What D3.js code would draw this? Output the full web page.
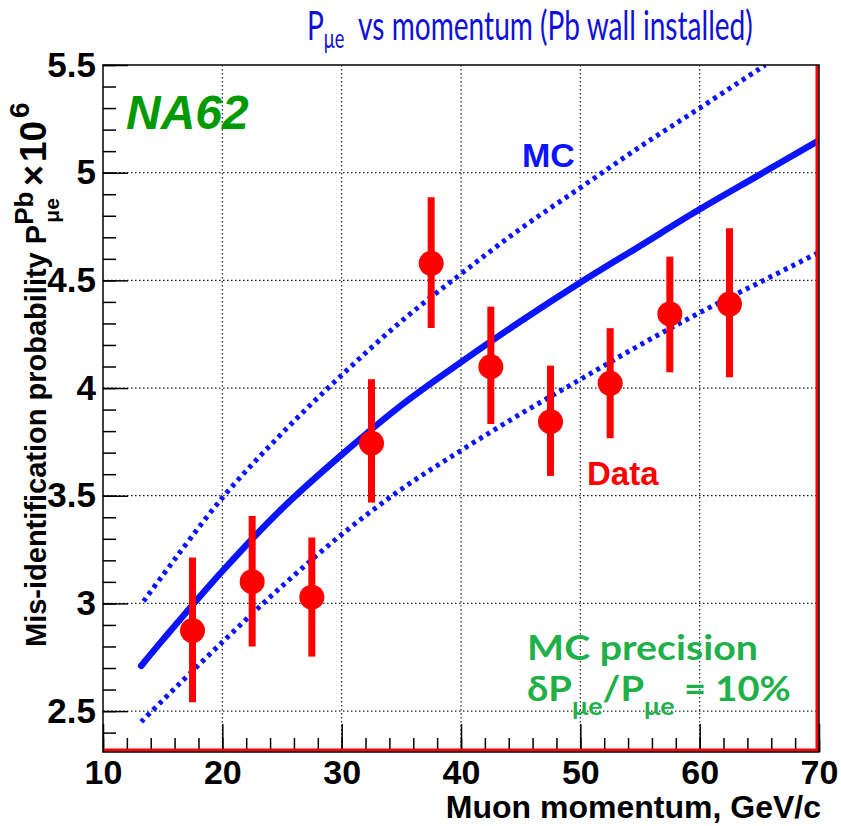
<!DOCTYPE html>
<html lang="en">
<head>
<meta charset="UTF-8">
<title>Pmue vs momentum</title>
<script src="https://cdn.jsdelivr.net/npm/d3@7"></script>
<style>
  body { margin: 0; background: #fff; }
  svg { display: block; }
  .tick text { font-family: "Liberation Sans", Arial, sans-serif; font-weight: bold; }
</style>
</head>
<body>
<div id="chart"></div>
<script>
// data points (muon momentum bins) with error bars
const dataX  = [17.5, 22.5, 27.5, 32.5, 37.5, 42.5, 47.5, 52.5, 57.5, 62.5];
const dataY  = [2.874, 3.101, 3.029, 3.744, 4.579, 4.099, 3.844, 4.022, 4.344, 4.390];
const dataHi = [3.213, 3.406, 3.306, 4.041, 4.886, 4.378, 4.104, 4.278, 4.610, 4.742];
const dataLo = [2.541, 2.800, 2.753, 3.468, 4.279, 3.833, 3.592, 3.767, 4.073, 4.050];

// MC curve and its +-10% band
const mcX    = [13.2, 15, 20, 25, 30, 35, 40, 45, 50, 55, 60, 65, 70];
const mcY    = [2.71, 2.83, 3.15, 3.44, 3.69, 3.92, 4.12, 4.31, 4.49, 4.66, 4.83, 4.99, 5.15];
const upperX = [13.4, 15, 20, 25, 30, 35, 40, 45, 50, 55, 60, 65.5];
const upperY = [3.01, 3.13, 3.49, 3.79, 4.06, 4.31, 4.53, 4.74, 4.93, 5.12, 5.30, 5.50];
const lowerX = [13.2, 15, 20, 25, 30, 35, 40, 45, 50, 55, 60, 65, 70];
const lowerY = [2.45, 2.55, 2.82, 3.08, 3.32, 3.53, 3.71, 3.88, 4.04, 4.20, 4.35, 4.49, 4.63];

const xMajor = [10, 20, 30, 40, 50, 60, 70];
const yMajor = [2.5, 3, 3.5, 4, 4.5, 5, 5.5];

const W = 841, H = 826;
const pLeft = 103, pRight = 819, pTop = 65, pBottom = 752;

const svg = d3.select('#chart').append('svg')
    .attr('width', W).attr('height', H);

const x = d3.scaleLinear().domain([10, 70]).range([pLeft, pRight]);
const y = d3.scaleLinear().domain([2.31, 5.5]).range([pBottom, pTop]);

svg.append('rect').attr('width', W).attr('height', H).attr('fill', '#fff');

// grid
const grid = svg.append('g').attr('stroke', '#222').attr('stroke-width', 1.2)
    .attr('stroke-dasharray', '1.5,2.5');
grid.selectAll('.gx').data(xMajor.slice(1, -1)).enter().append('line')
    .attr('x1', d => x(d)).attr('x2', d => x(d)).attr('y1', pTop).attr('y2', pBottom);
grid.selectAll('.gy').data(yMajor.slice(0, -1)).enter().append('line')
    .attr('y1', d => y(d)).attr('y2', d => y(d)).attr('x1', pLeft).attr('x2', pRight);

// axes, ticks pointing inward
const minorX = d3.range(10, 70.01, 2);
const minorY = d3.range(24, 55.01, 1).map(d => d / 10);

function styleAxis(g) {
    g.select('.domain').remove();
    g.selectAll('.tick line').attr('stroke', '#000').attr('stroke-width', 1.5);
}

svg.append('g').attr('transform', `translate(0,${pBottom})`)
    .call(d3.axisBottom(x).tickValues(minorX).tickSize(-14).tickFormat(''))
    .call(styleAxis);
svg.append('g').attr('transform', `translate(0,${pBottom})`)
    .call(d3.axisBottom(x).tickValues(xMajor).tickSize(-28).tickPadding(8).tickFormat(d => d))
    .call(styleAxis)
    .call(g => g.selectAll('text').attr('font-size', 34).attr('fill', '#000'));

svg.append('g').attr('transform', `translate(${pLeft},0)`)
    .call(d3.axisLeft(y).tickValues(minorY).tickSize(-13).tickFormat(''))
    .call(styleAxis);
svg.append('g').attr('transform', `translate(${pLeft},0)`)
    .call(d3.axisLeft(y).tickValues(yMajor).tickSize(-25).tickPadding(7).tickFormat(d => d))
    .call(styleAxis)
    .call(g => g.selectAll('text').attr('font-size', 35).attr('fill', '#000'));

// curves
svg.append('clipPath').attr('id', 'clip').append('rect')
    .attr('x', pLeft).attr('y', pTop).attr('width', pRight - pLeft).attr('height', pBottom - pTop);

const line = d3.line().curve(d3.curveCatmullRom).x(d => x(d[0])).y(d => y(d[1]));
const curves = svg.append('g').attr('clip-path', 'url(#clip)').attr('fill', 'none');
curves.append('path').datum(d3.zip(upperX, upperY)).attr('d', line)
    .attr('stroke', '#0a14ff').attr('stroke-width', 5).attr('stroke-dasharray', '4,4.5');
curves.append('path').datum(d3.zip(lowerX, lowerY)).attr('d', line)
    .attr('stroke', '#0a14ff').attr('stroke-width', 5).attr('stroke-dasharray', '4,4.5');
curves.append('path').datum(d3.zip(mcX, mcY)).attr('d', line)
    .attr('stroke', '#0a14ff').attr('stroke-width', 6.5).attr('stroke-linecap', 'round');

// data points
const pts = svg.append('g').attr('fill', '#ff0000');
pts.selectAll('rect.err').data(dataX).enter().append('rect')
    .attr('x', d => x(d) - 3.5).attr('width', 7)
    .attr('y', (d, i) => y(dataHi[i]))
    .attr('height', (d, i) => y(dataLo[i]) - y(dataHi[i]));
pts.selectAll('circle').data(dataX).enter().append('circle')
    .attr('cx', d => x(d)).attr('cy', (d, i) => y(dataY[i])).attr('r', 12.5);

// frame (red inner line on bottom and right)
svg.append('line').attr('x1', pLeft).attr('x2', pRight).attr('y1', pBottom - 2).attr('y2', pBottom - 2)
    .attr('stroke', '#ff0000').attr('stroke-width', 3);
svg.append('line').attr('x1', pRight - 2).attr('x2', pRight - 2).attr('y1', pTop).attr('y2', pBottom)
    .attr('stroke', '#ff0000').attr('stroke-width', 3);
svg.append('rect').attr('x', pLeft).attr('y', pTop).attr('width', pRight - pLeft).attr('height', pBottom - pTop)
    .attr('fill', 'none').attr('stroke', '#000').attr('stroke-width', 1.5);

// labels
const arial = '"Liberation Sans", Arial, sans-serif';
const comic = '"Comic Sans MS", Lato, "Open Sans", sans-serif';

// squeeze a text horizontally so it spans `width` px starting at (x0, y0)
function fitTo(t, x0, y0, width) {
    const w = t.node().getBBox().width;
    t.attr('transform', `translate(${x0},${y0}) scale(${width / w},1)`);
}

svg.append('text').attr('x', 821).attr('y', 818).attr('text-anchor', 'end')
    .attr('font-family', arial).attr('font-weight', 'bold').attr('font-size', 32)
    .text('Muon momentum, GeV/c');

const yt = svg.append('text').attr('transform', 'translate(46,647) rotate(-90)')
    .attr('font-family', arial).attr('font-weight', 'bold').attr('font-size', 29);
yt.append('tspan').text('Mis-identification probability P');
yt.append('tspan').attr('dy', -13).attr('font-size', 26).text('Pb');
yt.append('tspan').attr('dx', -31).attr('dy', 26).attr('font-size', 21).text('\u03bce');
yt.append('tspan').attr('dx', 12).attr('dy', -13).attr('font-size', 36).text('\u00d7');
yt.append('tspan').attr('dx', 3).attr('font-size', 37).text('10');
yt.append('tspan').attr('dx', 3).attr('dy', -17).attr('font-size', 28).text('6');

svg.append('text').attr('x', 126).attr('y', 129)
    .attr('font-family', arial).attr('font-weight', 'bold').attr('font-style', 'italic')
    .attr('font-size', 48).attr('fill', '#009a00').text('NA62');

svg.append('text').attr('x', 522).attr('y', 167)
    .attr('font-family', arial).attr('font-weight', 'bold').attr('font-size', 34)
    .attr('fill', '#0a14ff').text('MC');

svg.append('text').attr('x', 587).attr('y', 485)
    .attr('font-family', arial).attr('font-weight', 'bold').attr('font-size', 33)
    .attr('fill', '#ff0000').text('Data');

// title
const title = svg.append('text').attr('fill', '#1010d8').attr('font-family', comic)
    .attr('font-size', 40);
title.append('tspan').text('P');
title.append('tspan').attr('dy', 8).attr('font-size', 26).text('\u03bce');
title.append('tspan').attr('dy', -8).text('\u00a0\u00a0vs momentum (Pb wall installed)');
fitTo(title, 307, 40, 446);

// MC precision note
const note1 = svg.append('text').attr('fill', '#1fb04a').attr('font-family', comic)
    .attr('font-weight', 'bold').attr('font-size', 34).text('MC precision');
fitTo(note1, 527, 660, 231);

const note2 = svg.append('text').attr('fill', '#1fb04a').attr('font-family', comic)
    .attr('font-weight', 'bold').attr('font-size', 34);
note2.append('tspan').text('\u03b4P');
note2.append('tspan').attr('dy', 14).attr('font-size', 24).text('\u03bce');
note2.append('tspan').attr('dy', -14).text('/P');
note2.append('tspan').attr('dy', 14).attr('font-size', 24).text('\u03bce');
note2.append('tspan').attr('dy', -14).text('\u00a0=\u00a010%');
fitTo(note2, 527, 701, 264);
</script>
</body>
</html>
